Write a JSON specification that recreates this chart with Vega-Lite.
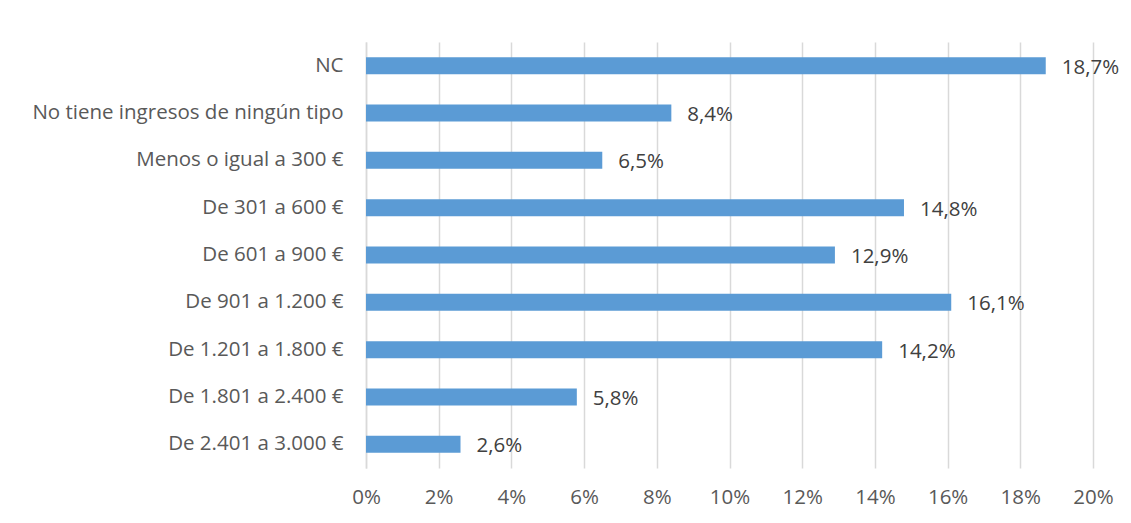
{
  "$schema": "https://vega.github.io/schema/vega-lite/v6.json",
  "autosize": {"type": "none"},
  "width": 727,
  "height": 426,
  "padding": {"left": 366, "top": 42, "right": 38, "bottom": 55},
  "background": "white",
  "config": {
    "locale": {"number": {"decimal": ",", "thousands": ".", "grouping": [3], "currency": ["", " €"]}},
    "view": {"stroke": null},
    "font": "Open Sans"
  },
  "data": {
    "values": [
      {"categoria": "NC", "valor": 0.187},
      {"categoria": "No tiene ingresos de ningún tipo", "valor": 0.084},
      {"categoria": "Menos o igual a 300 €", "valor": 0.065},
      {"categoria": "De 301 a 600 €", "valor": 0.148},
      {"categoria": "De 601 a 900 €", "valor": 0.129},
      {"categoria": "De 901 a 1.200 €", "valor": 0.161},
      {"categoria": "De 1.201 a 1.800 €", "valor": 0.142},
      {"categoria": "De 1.801 a 2.400 €", "valor": 0.058},
      {"categoria": "De 2.401 a 3.000 €", "valor": 0.026}
    ]
  },
  "encoding": {
    "y": {
      "field": "categoria",
      "type": "nominal",
      "sort": null,
      "title": null,
      "scale": {"paddingInner": 0.64, "paddingOuter": 0.32},
      "axis": {
        "domain": true,
        "domainColor": "#d9d9d9",
        "domainWidth": 1.5,
        "ticks": false,
        "labelPadding": 23,
        "labelFontSize": 20.5,
        "labelColor": "#595959",
        "labelFont": "Open Sans",
        "labelLimit": 400
      }
    },
    "x": {
      "field": "valor",
      "type": "quantitative",
      "title": null,
      "scale": {"domain": [0, 0.2], "nice": false},
      "axis": {
        "values": [0, 0.02, 0.04, 0.06, 0.08, 0.1, 0.12, 0.14, 0.16, 0.18, 0.2],
        "format": ".0%",
        "domain": false,
        "ticks": false,
        "grid": true,
        "gridColor": "#d9d9d9",
        "gridWidth": 1.5,
        "labelPadding": 29,
        "labelFlush": false,
        "labelOverlap": false,
        "labelFontSize": 20.5,
        "labelColor": "#595959",
        "labelFont": "Open Sans",
        "labelBaseline": "middle"
      }
    }
  },
  "layer": [
    {"mark": {"type": "bar", "color": "#5B9BD5"}},
    {
      "mark": {"type": "text", "align": "left", "baseline": "middle", "dx": 16, "dy": 2, "fontSize": 20.5, "color": "#404040", "font": "Open Sans"},
      "encoding": {"text": {"field": "valor", "type": "quantitative", "format": ".1%"}}
    }
  ]
}
